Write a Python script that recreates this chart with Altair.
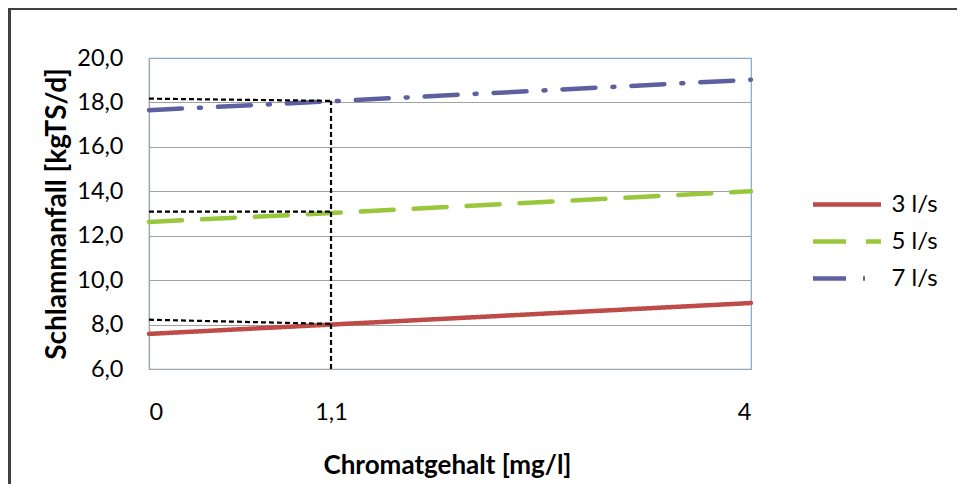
import altair as alt
import pandas as pd

# ---- data ----
series_names = ["3 l/s", "5 l/s", "7 l/s"]
x_values = [0, 1.1, 4]
y_3ls = [7.58, 8.0, 8.97]
y_5ls = [12.62, 13.02, 14.0]
y_7ls = [17.65, 18.05, 19.02]
series_colors = ["#BE4B48", "#98C73C", "#5E5FA0"]

# black dashed reading guides
guide_x = [0, 0, 0, 1.1]
guide_y = [18.17, 13.08, 8.22, 6.0]
guide_x2 = [1.1, 1.1, 1.1, 1.1]
guide_y2 = [18.07, 13.08, 8.03, 18.07]

x_ticks = [0, 1.1, 4]
y_ticks = [6, 8, 10, 12, 14, 16, 18, 20]

rows = []
for name, ys in zip(series_names, [y_3ls, y_5ls, y_7ls]):
    for xv, yv in zip(x_values, ys):
        rows.append({"series": name, "x": xv, "y": yv})
df = pd.DataFrame(rows)

gdf = pd.DataFrame({"x": guide_x, "y": guide_y, "x2": guide_x2, "y2": guide_y2})

FONT = "Lato"
W, H = 602, 311

xscale = alt.Scale(domain=[0, 1.1, 4], range=[0, 182, W])
yscale = alt.Scale(domain=[6, 20], nice=False, zero=False)

legend = alt.Legend(
    title=None, orient="none", legendX=673.5, legendY=122,
    symbolType="M-1.545,0H1.545", symbolSize=1936, symbolStrokeWidth=4.5,
    labelFontSize=24, labelFont=FONT, labelColor="black", labelOffset=20,
    rowPadding=0, padding=0,
)

lines = alt.Chart(df).mark_line(strokeWidth=4.5, strokeCap="round").encode(
    x=alt.X("x:Q", scale=xscale, title="Chromatgehalt [mg/l]",
            axis=alt.Axis(values=x_ticks, grid=False, ticks=False,
                          labelExpr="replace(toString(datum.value), '.', ',')",
                          labelFontSize=23.5, labelFont=FONT, labelColor="black",
                          labelBaseline="middle", labelPadding=43,
                          domainColor="#A6A6A6", domainWidth=1.2,
                          titleFont=FONT, titleFontSize=26, titleFontWeight="bold",
                          titleColor="black", titleX=298, titleY=96,
                          titleBaseline="middle", titleAlign="center")),
    y=alt.Y("y:Q", scale=yscale, title="Schlammanfall [kgTS/d]",
            axis=alt.Axis(values=y_ticks, grid=True, ticks=False,
                          gridColor={"condition": {"test": "datum.value == 20", "value": "#7FA7DA"},
                                     "value": "#A0A0A0"},
                          labelExpr="replace(format(datum.value, '.1f'), '.', ',')",
                          labelFontSize=23.5, labelFont=FONT, labelColor="black",
                          labelPadding=26, domainColor="#A6A6A6", domainWidth=1.2,
                          titleFont=FONT, titleFontSize=28, titleFontWeight="bold",
                          titleColor="black", titleX=-92, titleY=H / 2,
                          titleBaseline="middle", titleAlign="center")),
    color=alt.Color("series:N", scale=alt.Scale(domain=series_names, range=series_colors), legend=legend),
    strokeDash=alt.StrokeDash("series:N",
                              scale=alt.Scale(domain=series_names,
                                              range=[[1, 0], [33, 20], [33, 17, 2, 17]]),
                              legend=legend),
)

guides = alt.Chart(gdf).mark_rule(color="black", strokeWidth=2.2, strokeDash=[5, 3]).encode(
    x=alt.X("x:Q", scale=xscale),
    y=alt.Y("y:Q", scale=yscale),
    x2="x2:Q",
    y2="y2:Q",
)

frame_df = pd.DataFrame({"a": [0]})
frame_left = alt.Chart(frame_df).mark_rule(color="#404040", strokeWidth=3).encode(
    x=alt.value(-139.5), y=alt.value(-50), y2=alt.value(440))
frame_top = alt.Chart(frame_df).mark_rule(color="#404040", strokeWidth=2.5).encode(
    x=alt.value(-141), x2=alt.value(820), y=alt.value(-49.2))

chart = alt.layer(lines, guides, frame_left, frame_top).properties(
    width=W, height=H,
    autosize=alt.AutoSizeParams(type="none"),
    padding={"left": 141, "top": 50, "right": 206, "bottom": 115},
    background="white",
).configure_view(stroke="#7FA7DA", strokeWidth=1.2)

chart.save("out.html", embed_options={"renderer": "svg", "actions": False})
